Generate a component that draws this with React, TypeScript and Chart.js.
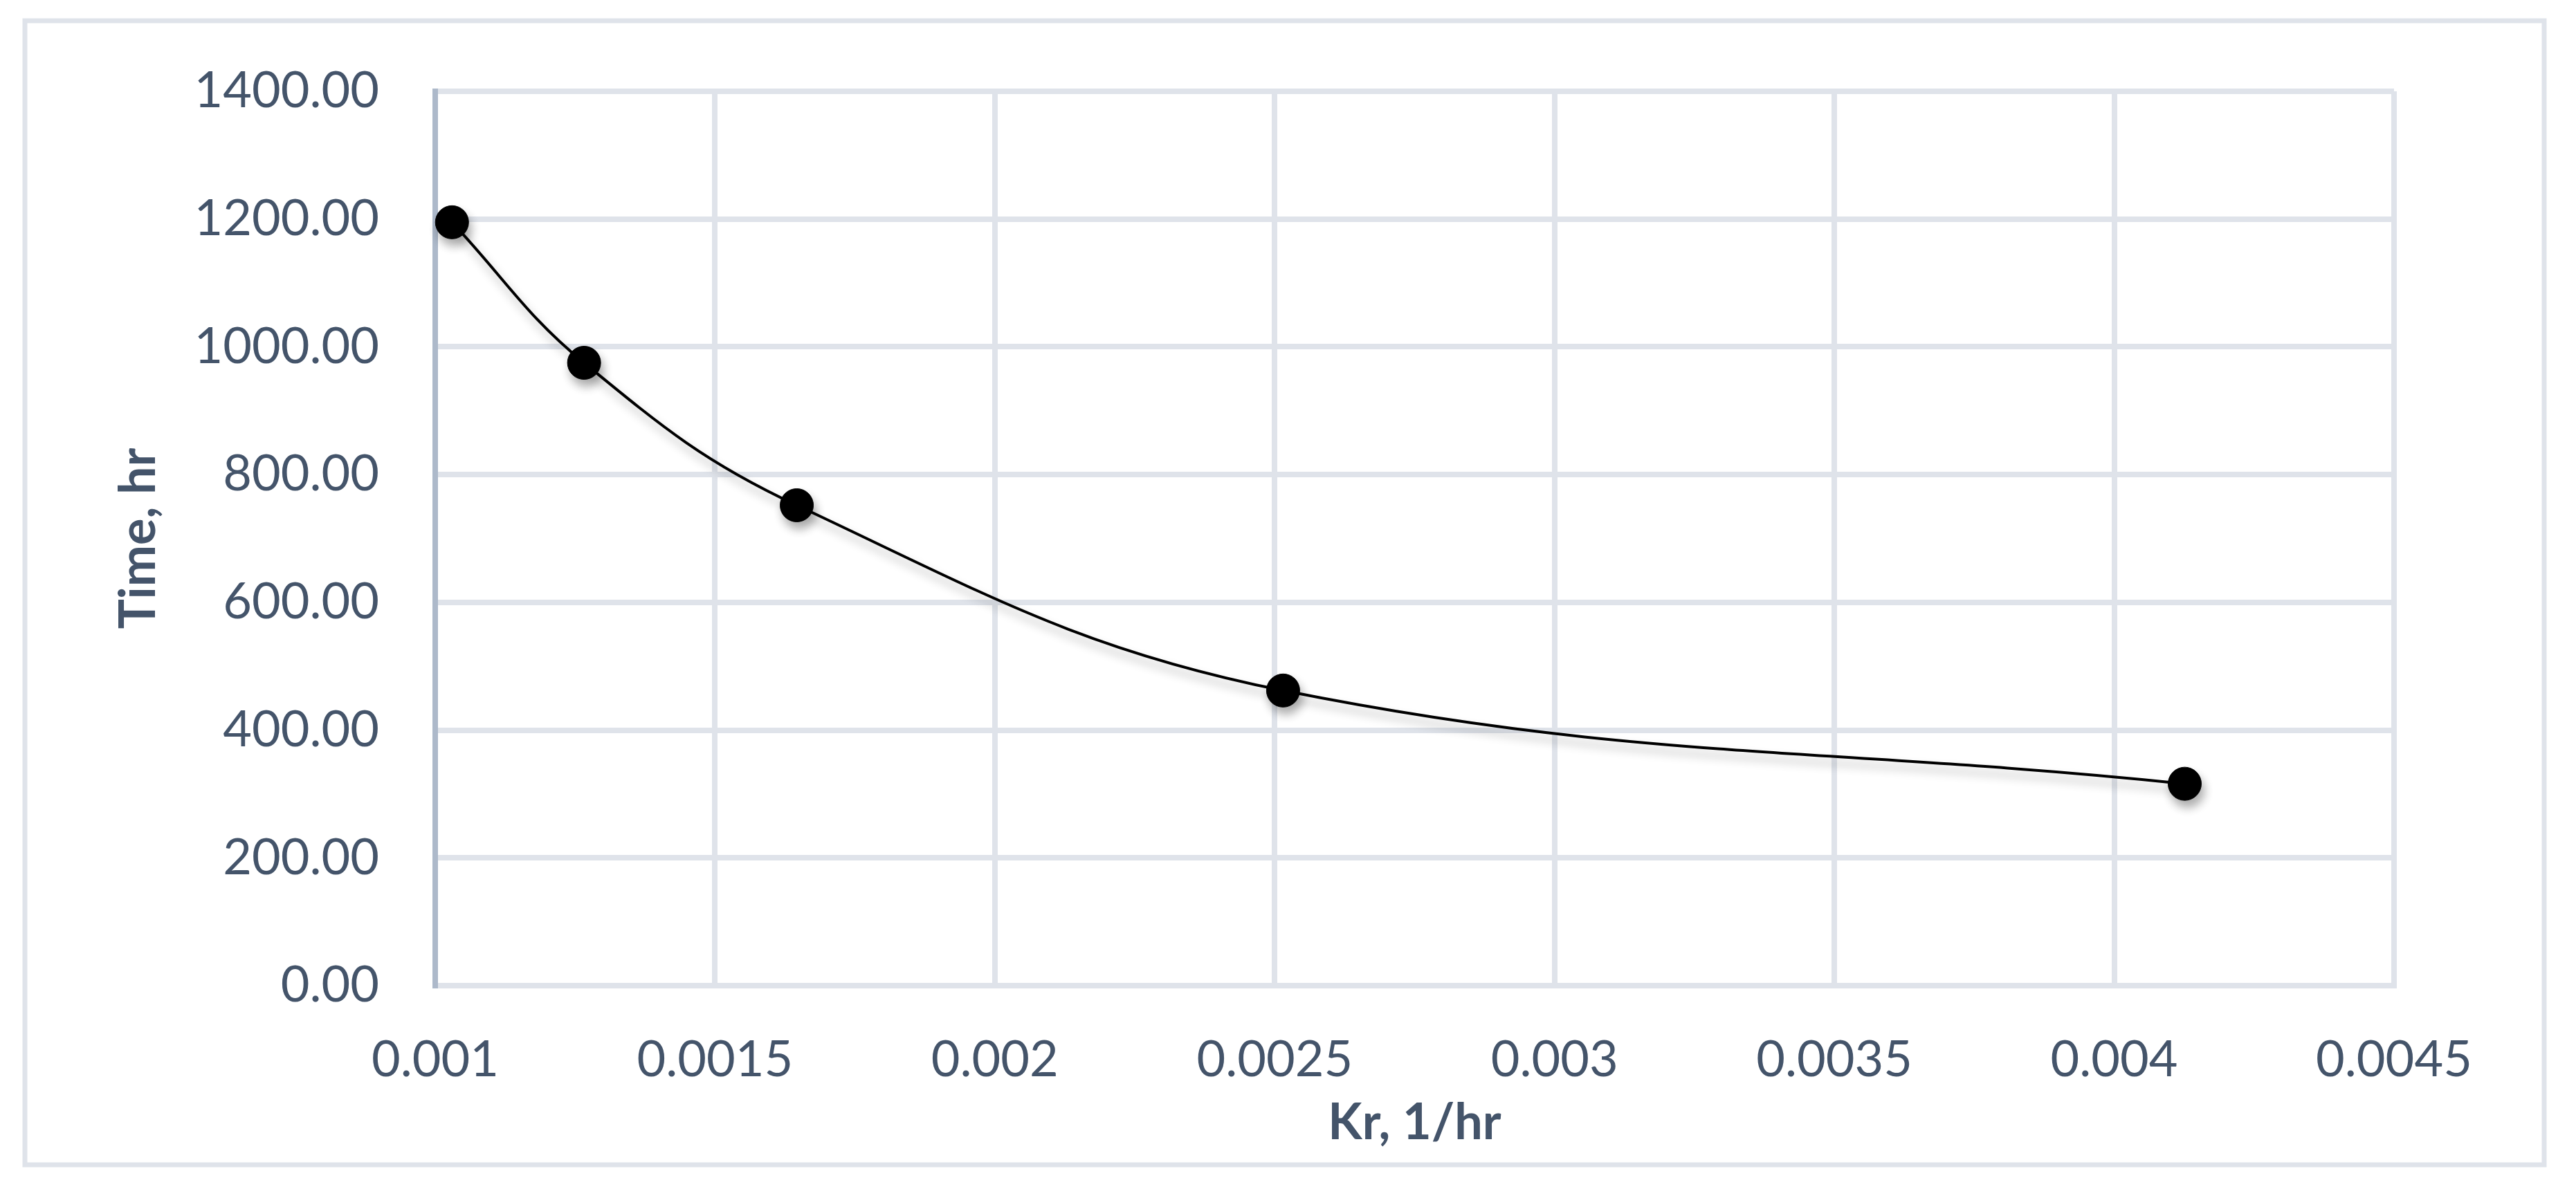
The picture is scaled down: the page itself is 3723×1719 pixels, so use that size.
import React, { useEffect, useRef } from "react";
import { Chart, registerables } from "chart.js";

Chart.register(...registerables);

// Data
const krValues = [0.00103, 0.001266, 0.001646, 0.002515, 0.004126];
const timeValues = [1195, 975, 752, 462, 316];

const xTickValues = [0.001, 0.0015, 0.002, 0.0025, 0.003, 0.0035, 0.004, 0.0045];
const xTickLabels = ["0.001", "0.0015", "0.002", "0.0025", "0.003", "0.0035", "0.004", "0.0045"];
const yTickValues = [0, 200, 400, 600, 800, 1000, 1200, 1400];
const yTickLabels = ["0.00", "200.00", "400.00", "600.00", "800.00", "1000.00", "1200.00", "1400.00"];

const xTitle = "Kr, 1/hr";
const yTitle = "Time, hr";

const W = 3723;
const H = 1719;
const TEXT = "#44546A";
const GRID = "#dfe3ea";

const frame = {
  id: "frame",
  beforeDraw(chart: any) {
    const ctx = chart.ctx;
    ctx.save();
    ctx.fillStyle = "#ffffff";
    ctx.fillRect(0, 0, chart.width, chart.height);
    ctx.strokeStyle = GRID;
    ctx.lineWidth = 7;
    ctx.strokeRect(36, 30, 3677 - 36, 1684 - 30);
    ctx.restore();
  },
};

const shadow = {
  id: "shadow",
  beforeDatasetsDraw(chart: any) {
    const ctx = chart.ctx;
    ctx.save();
    ctx.shadowColor = "rgba(0,0,0,0.32)";
    ctx.shadowBlur = 14;
    ctx.shadowOffsetX = 4;
    ctx.shadowOffsetY = 10;
  },
  afterDatasetsDraw(chart: any) {
    chart.ctx.restore();
  },
};

export default function App() {
  const ref = useRef<HTMLCanvasElement | null>(null);

  useEffect(() => {
    if (!ref.current) return;
    const chart = new Chart(ref.current, {
      type: "line",
      data: {
        datasets: [
          {
            data: krValues.map((x, i) => ({ x, y: timeValues[i] })),
            borderColor: "#000000",
            borderWidth: 4,
            tension: 0.4,
            pointRadius: 24,
            pointBackgroundColor: "#000000",
            pointBorderColor: "#000000",
            pointBorderWidth: 1,
            fill: false,
            clip: false as any,
          },
        ],
      },
      options: {
        animation: false,
        responsive: false,
        devicePixelRatio: 1,
        layout: { padding: { left: 0, top: 132, right: 263, bottom: 0 } },
        plugins: { legend: { display: false }, tooltip: { enabled: false } },
        scales: {
          x: {
            type: "linear",
            min: 0.001,
            max: 0.0045,
            afterFit: (s: any) => {
              s.height = 294;
            },
            afterBuildTicks: (s: any) => {
              s.ticks = xTickValues.map((v) => ({ value: v }));
            },
            ticks: {
              padding: 65,
              color: TEXT,
              font: { family: "Lato", size: 72 },
              callback: (_v: any, i: number) => xTickLabels[i],
              maxRotation: 0,
              autoSkip: false,
            },
            grid: { color: GRID, lineWidth: 8, drawTicks: false },
            border: { color: GRID, width: 8 },
            title: {
              display: true,
              text: xTitle,
              color: TEXT,
              font: { family: "Lato", size: 72, weight: "bold" },
              padding: { top: 0, bottom: 52 },
            },
          },
          y: {
            type: "linear",
            min: 0,
            max: 1400,
            afterFit: (s: any) => {
              s.width = 629;
            },
            afterBuildTicks: (s: any) => {
              s.ticks = yTickValues.map((v) => ({ value: v }));
            },
            ticks: {
              padding: 81,
              color: TEXT,
              font: { family: "Lato", size: 72 },
              callback: (_v: any, i: number) => yTickLabels[i],
              autoSkip: false,
            },
            grid: { color: GRID, lineWidth: 8, drawTicks: false },
            border: { color: "#adb9ca", width: 8 },
            title: {
              display: true,
              text: yTitle,
              color: TEXT,
              font: { family: "Lato", size: 72, weight: "bold" },
              padding: { top: 158, bottom: 0 },
            },
          },
        },
      },
      plugins: [frame, shadow],
    });
    return () => chart.destroy();
  }, []);

  return (
    <div style={{ position: "absolute", left: 0, top: 0, width: W, height: H, background: "#fff" }}>
      <canvas ref={ref} width={W} height={H} style={{ width: W, height: H, display: "block" }} />
    </div>
  );
}
